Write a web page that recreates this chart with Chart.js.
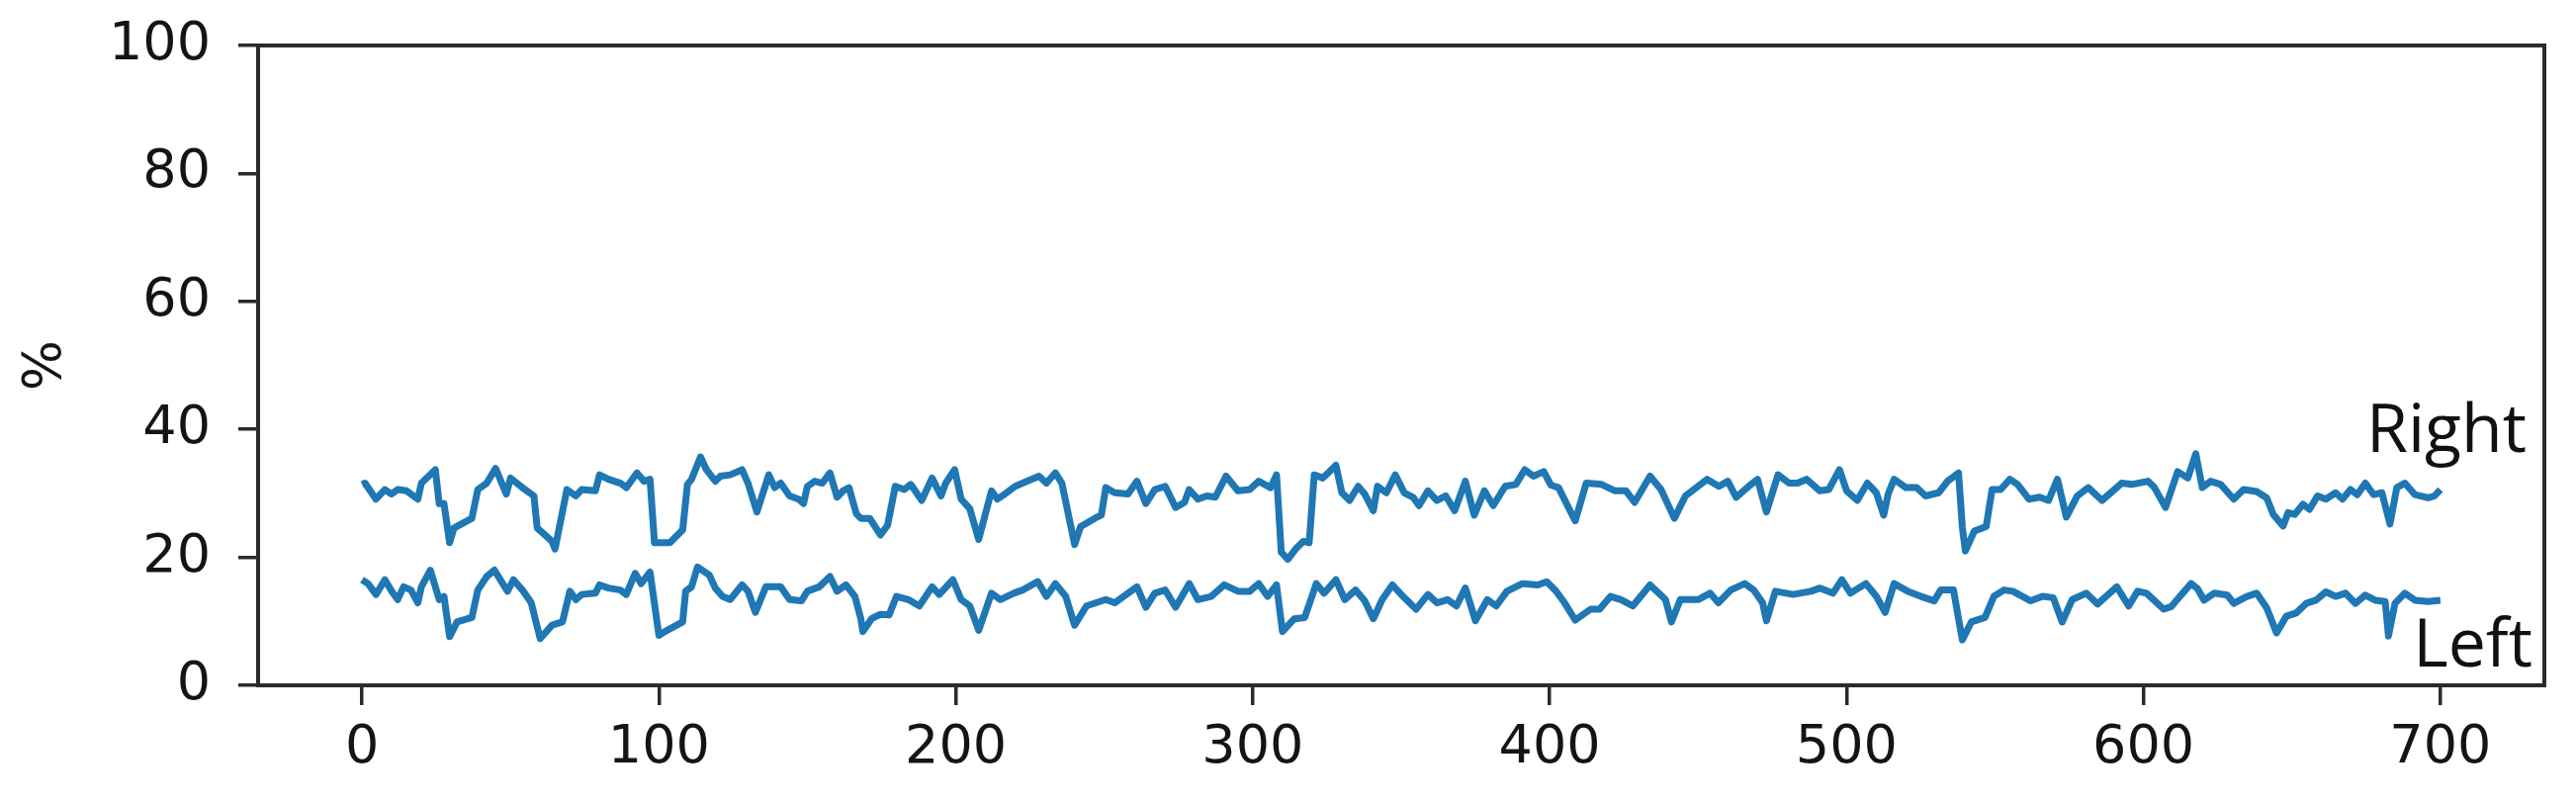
<!DOCTYPE html>
<html>
<head>
<meta charset="utf-8">
<script src="https://cdn.jsdelivr.net/npm/chart.js@4/dist/chart.umd.min.js"></script>
<style>
  html, body { margin: 0; padding: 0; background: #fff; }
  canvas { display: block; }
</style>
</head>
<body>
<canvas id="chart" width="2605" height="813"></canvas>
<script>
// values (x = sample index, y = %)
var rightX = [0, 1, 4.7, 7.7, 9.9, 12, 15, 18.8, 20, 24.7, 26, 27.6, 29.5, 31, 37, 39, 42, 45, 48.6, 50,
  54, 57.9, 59, 64, 65, 69, 72, 74, 78.6, 80, 83, 87, 89, 92.6, 95, 97, 98.5, 103.7, 108, 109.6,
  111, 114, 116, 119, 120.7, 124, 128, 130, 133, 137, 139, 141, 144, 147, 148.7, 150, 152.5, 155, 157.6, 160,
  162, 164, 166.5, 168, 171, 174.6, 177, 179.6, 182.6, 184.8, 188.5, 192, 195, 196.6, 199.6, 201.8, 204.7, 207.7, 212, 214,
  216.5, 220, 222.5, 228, 230.5, 233.5, 235.7, 240, 242, 247.6, 249, 250.5, 253.5, 258, 261, 264, 267, 270.5, 274, 277,
  278.6, 281.5, 284.5, 287.4, 291, 295, 299, 302, 306, 308, 309.6, 311.8, 314.8, 317, 319, 320.7, 323.6, 325.8, 328, 330,
  332.6, 335.5, 337.7, 340.6, 342, 345, 348, 351, 354, 356, 359, 362, 365, 368, 371.6, 374.6, 378, 381, 385, 388.6,
  391.6, 394.5, 398, 400.4, 403, 406, 408.6, 412.3, 417.5, 422, 425.7, 428.6, 433.8, 437.5, 442, 445.7, 453, 457, 460, 462.8,
  467, 470, 473, 476.9, 480.6, 483.5, 486.5, 491, 494, 497.6, 500, 503.6, 507, 510, 512.5, 514, 516, 520, 523.6, 526.6,
  531, 534, 537.7, 539, 540, 543, 547, 549, 551.8, 555, 557.6, 561.4, 565, 568, 571, 574, 577.7, 581.4, 586, 589,
  592.6, 596, 601.5, 603.7, 607.4, 611.5, 614.9, 617.6, 619.8, 622.6, 626, 630.4, 633.7, 638.1, 641.5, 643.7, 647, 648.7, 650.9, 653.7,
  655.9, 658.6, 661.4, 664.7, 667, 669.7, 672, 674.7, 677.5, 680.3, 683, 685.3, 688, 691.4, 695.8, 698, 700];
var rightY = [31.4, 31.6, 29.1, 30.6, 29.9, 30.6, 30.4, 29.1, 31.6, 33.7, 28.4, 28.4, 22.3, 24.6, 26.1, 30.6, 31.6, 33.9, 29.9, 32.4,
  30.9, 29.6, 24.6, 22.5, 21.3, 30.6, 29.6, 30.6, 30.4, 32.9, 32.2, 31.6, 30.9, 33.2, 31.9, 32.2, 22.3, 22.3, 24.3, 31.4,
  32.2, 35.7, 33.7, 31.9, 32.7, 32.9, 33.7, 31.6, 27.1, 32.9, 30.9, 31.6, 29.6, 29.1, 28.4, 31.1, 31.9, 31.6, 33.2, 29.4,
  30.4, 30.9, 26.8, 26.1, 26.1, 23.5, 25.0, 31.1, 30.6, 31.4, 28.9, 32.4, 29.6, 31.6, 33.7, 29.1, 27.6, 22.8, 30.4, 29.1,
  29.9, 31.1, 31.6, 32.7, 31.6, 33.2, 31.6, 22.0, 24.8, 26.3, 26.6, 30.9, 30.1, 29.9, 31.9, 28.4, 30.6, 31.1, 27.8, 28.6,
  30.6, 29.1, 29.6, 29.4, 32.7, 30.4, 30.6, 31.9, 30.9, 32.9, 20.8, 19.7, 21.5, 22.5, 22.3, 32.9, 32.4, 33.4, 34.4, 30.1,
  28.9, 31.1, 29.9, 27.3, 31.1, 30.1, 32.9, 30.1, 29.4, 28.1, 30.4, 28.9, 29.6, 27.3, 31.9, 26.6, 30.4, 28.1, 31.1, 31.4,
  33.7, 32.7, 33.4, 31.3, 30.9, 28.1, 25.7, 31.6, 31.4, 30.4, 30.4, 28.6, 32.7, 30.6, 26.1, 29.6, 32.2, 31.1, 31.9, 29.4,
  31.1, 32.2, 27.1, 32.9, 31.6, 31.6, 32.2, 30.4, 30.6, 33.7, 30.4, 28.9, 31.6, 30.1, 26.6, 29.9, 32.2, 30.9, 30.9, 29.6,
  30.1, 31.9, 33.2, 24.6, 21.0, 24.1, 24.8, 30.6, 30.6, 32.2, 31.4, 29.1, 29.4, 28.9, 32.2, 26.3, 29.6, 30.9, 28.9, 30.1,
  31.6, 31.4, 31.9, 30.9, 27.8, 33.4, 32.4, 36.2, 30.9, 31.9, 31.4, 29.1, 30.6, 30.3, 29.3, 26.7, 24.9, 27.0, 26.7, 28.3,
  27.5, 29.6, 29.1, 30.1, 29.1, 30.6, 29.8, 31.6, 29.8, 30.1, 25.2, 30.9, 31.6, 29.8, 29.3, 29.6, 30.6];

var leftX = [0, 2, 4.7, 7.7, 10, 12, 14, 16.5, 18.8, 20, 23, 26, 27.6, 29.5, 32, 37, 39, 42, 44.6, 49,
  51, 54, 57, 60, 64, 67.5, 70, 72, 74, 78.6, 80, 83, 87, 89, 92, 94, 97, 100, 102, 108,
  109, 111, 113, 117, 119, 121.4, 124, 128, 130, 132.5, 136, 141, 144, 148, 150, 154, 157.6, 160, 163, 166,
  168, 168.7, 171.6, 174.6, 177.5, 180, 184, 187.7, 192, 194.4, 199, 201.8, 204.7, 207.7, 212, 215, 219.5, 222.5, 227.6, 230.5,
  233.5, 237, 240, 244, 250.5, 253.5, 261, 264, 267, 270.5, 274, 278.6, 281.5, 286, 290.4, 295, 299, 302, 305, 308,
  310, 314, 317.5, 321.4, 324, 328, 331, 334.6, 337.7, 340.6, 343.6, 347, 351, 355, 359, 362, 365.6, 368.6, 371.6, 375,
  379, 382, 385.6, 390.8, 396, 399, 402, 405, 408.6, 413.8, 416.8, 420.5, 424, 428, 433.8, 439, 441, 444, 450, 454,
  456.8, 461, 465.7, 468.7, 471.7, 473, 476, 482, 488, 491, 495.4, 498.4, 501.3, 506.5, 510, 513, 516, 520.6, 525, 529.5,
  531.7, 536, 537.7, 539, 542, 546.6, 549.6, 553, 556, 562, 566, 569.6, 572.6, 576, 580.7, 584.5, 591, 595, 598, 601,
  606.8, 609.3, 611.5, 616, 618.2, 620.4, 623.8, 628.2, 630.4, 634.8, 638.1, 641.5, 644.8, 648.1, 651.4, 654.8, 658.1, 661.4, 664.7, 668,
  671.4, 674.7, 678, 681.4, 682.5, 684.7, 688, 691.4, 695.8, 700];
var leftY = [16.5, 15.9, 14.2, 16.5, 14.7, 13.4, 15.4, 14.9, 12.9, 15.4, 18.0, 13.4, 13.9, 7.6, 9.9, 10.6, 14.9, 17.0, 18.0, 14.7,
  16.5, 14.9, 12.9, 7.3, 9.4, 9.9, 14.7, 13.4, 14.2, 14.4, 15.7, 15.2, 14.9, 14.2, 17.5, 15.9, 17.7, 7.8, 8.4, 9.9,
  14.7, 15.4, 18.5, 17.2, 15.2, 13.9, 13.4, 15.7, 14.7, 11.4, 15.4, 15.4, 13.4, 13.2, 14.7, 15.4, 17.0, 14.7, 15.7, 13.9,
  10.4, 8.4, 10.4, 11.1, 11.0, 13.9, 13.4, 12.4, 15.4, 14.2, 16.5, 13.4, 12.4, 8.6, 14.4, 13.4, 14.4, 14.9, 16.2, 13.9,
  15.9, 13.9, 9.4, 12.4, 13.4, 12.9, 15.4, 12.2, 14.4, 14.9, 12.2, 15.9, 13.4, 13.9, 15.7, 14.7, 14.7, 15.9, 13.9, 15.7,
  8.4, 10.4, 10.6, 15.9, 14.4, 16.5, 13.4, 14.9, 13.2, 10.4, 13.4, 15.7, 13.7, 11.9, 14.2, 12.9, 13.4, 12.4, 15.2, 10.1,
  13.4, 12.4, 14.7, 15.9, 15.7, 16.2, 14.8, 12.9, 10.2, 11.9, 11.9, 13.9, 13.4, 12.4, 15.7, 13.4, 9.9, 13.4, 13.4, 14.4,
  12.9, 14.9, 15.9, 14.9, 12.9, 10.1, 14.7, 14.2, 14.7, 15.2, 14.4, 16.5, 14.4, 15.9, 13.9, 11.4, 15.9, 14.7, 13.9, 13.2,
  14.9, 14.9, 10.4, 7.1, 9.9, 10.6, 13.9, 14.9, 14.7, 13.2, 13.9, 13.7, 9.9, 13.4, 14.4, 12.7, 15.4, 12.4, 14.7, 14.4,
  11.9, 12.3, 13.5, 15.9, 15.1, 13.3, 14.4, 14.1, 12.8, 13.9, 14.4, 12.1, 8.2, 10.8, 11.3, 12.8, 13.3, 14.6, 13.9, 14.4,
  12.8, 14.1, 13.3, 13.1, 7.7, 12.8, 14.4, 13.3, 13.1, 13.3];

var xTicks = [0, 100, 200, 300, 400, 500, 600, 700];
var yTicks = [0, 20, 40, 60, 80, 100];
var seriesNames = ['Right', 'Left'];

function toPoints(xs, ys) {
  return xs.map(function (x, i) { return { x: x, y: ys[i] }; });
}

var axisColor = '#2b2b2b';
var textColor = '#141414';
var tickFont = { family: 'DejaVu Sans', size: 54 };

// box round the plot + the two series names at the right end
var framePlugin = {
  id: 'frame',
  afterDraw: function (chart) {
    var ctx = chart.ctx, a = chart.chartArea;
    var xs = chart.scales.x, ys = chart.scales.y;
    ctx.save();
    ctx.strokeStyle = axisColor;
    ctx.lineWidth = 4;
    ctx.strokeRect(a.left, a.top, a.right - a.left, a.bottom - a.top);
    ctx.fillStyle = '#111111';
    ctx.font = '68px "Open Sans"';
    ctx.textAlign = 'right';
    ctx.textBaseline = 'alphabetic';
    ctx.fillText(seriesNames[0], xs.getPixelForValue(729), ys.getPixelForValue(36.5));
    ctx.fillText(seriesNames[1], xs.getPixelForValue(731), ys.getPixelForValue(2.9));
    ctx.restore();
  }
};

// keep the plot box where the picture has it, whatever the label sizes
function noPad(s) {
  s.paddingTop = 0; s.paddingBottom = 0; s.paddingLeft = 0; s.paddingRight = 0;
}

new Chart(document.getElementById('chart'), {
  type: 'line',
  data: {
    datasets: [
      { label: seriesNames[0], data: toPoints(rightX, rightY) },
      { label: seriesNames[1], data: toPoints(leftX, leftY) }
    ]
  },
  options: {
    responsive: false,
    animation: false,
    devicePixelRatio: 1,
    layout: { padding: { top: 46, right: 32, left: 0, bottom: 0 } },
    elements: {
      line: { borderColor: '#1f77b4', borderWidth: 7, tension: 0, fill: false, borderJoinStyle: 'round' },
      point: { radius: 0 }
    },
    plugins: { legend: { display: false }, tooltip: { enabled: false } },
    scales: {
      x: {
        type: 'linear',
        min: -35,
        max: 735,
        afterBuildTicks: function (s) { s.ticks = xTicks.map(function (v) { return { value: v }; }); },
        afterFit: function (s) { s.height = 120; noPad(s); },
        grid: { drawOnChartArea: false, drawTicks: true, tickLength: 20, color: axisColor, lineWidth: 3.5 },
        border: { display: true, color: axisColor, width: 4 },
        ticks: { font: tickFont, color: textColor, padding: 12, maxRotation: 0, autoSkip: false }
      },
      y: {
        min: 0,
        max: 100,
        afterBuildTicks: function (s) { s.ticks = yTicks.map(function (v) { return { value: v }; }); },
        afterFit: function (s) { s.width = 261; noPad(s); },
        grid: { drawOnChartArea: false, drawTicks: true, tickLength: 20, color: axisColor, lineWidth: 3.5 },
        border: { display: true, color: axisColor, width: 4 },
        ticks: { font: tickFont, color: textColor, padding: 28 },
        title: { display: true, text: '%', font: tickFont, color: textColor, padding: { top: 15, bottom: 0 } }
      }
    }
  },
  plugins: [framePlugin]
});
</script>
</body>
</html>
